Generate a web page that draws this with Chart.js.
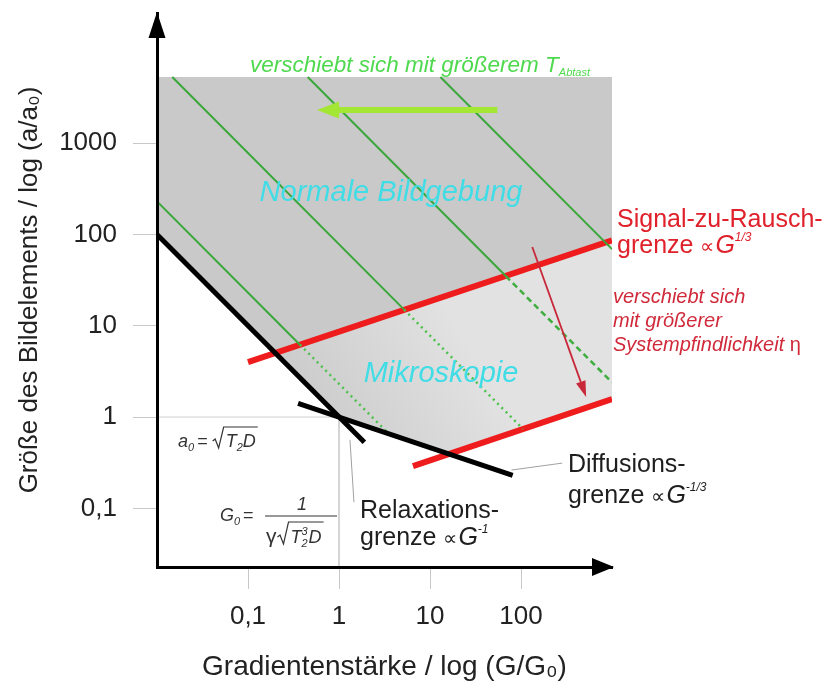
<!DOCTYPE html>
<html><head><meta charset="utf-8">
<script src="https://cdn.jsdelivr.net/npm/chart.js@4.4.1/dist/chart.umd.min.js"></script>
<style>html,body{margin:0;padding:0;background:#fff;}</style>
</head><body>
<canvas id="c" width="829" height="688"></canvas>
<script>
// ---------- DATA (G/G0 on x, a/a0 on y) ----------
const xTicks = [0.1, 1, 10, 100];
const xTickLabels = ['0,1', '1', '10', '100'];
const yTicks = [0.1, 1, 10, 100, 1000];
const yTickLabels = ['0,1', '1', '10', '100', '1000'];
const xMin = 0.01, xMax = 1000, yMin = 0.0228, yMax = 26600;

const relaxG = [0.01, 1.9];   const relaxA = [100, 0.53];     // Relaxationsgrenze ~G^-1
const diffG  = [0.355, 81];   const diffA  = [1.41, 0.23];    // Diffusionsgrenze ~G^-1/3
const snrHiG = [0.1, 1000];   const snrHiA = [4.0, 86];       // Signal-zu-Rausch ~G^1/3
const snrLoG = [6.5, 1000];   const snrLoA = [0.29, 1.57];    // shifted S/N limit
const grn0G = [0.01, 0.372];  const grn0A = [230, 6.2];
const grn1G = [0.0147, 5.2];  const grn1A = [5300, 15];
const grn2G = [0.453, 68];    const grn2A = [5300, 35];
const grn3G = [13, 1000];     const grn3A = [5300, 69];
const dot0G = [0.372, 3.5];   const dot0A = [6.2, 0.66];
const dot1G = [5.2, 105];     const dot1A = [15, 0.74];
const dash2G = [68, 1000];    const dash2A = [35, 2.4];
const normG = [0.01, 0.2, 1000];          const normA = [100, 5.0, 86];
const microG = [0.2, 1, 16.1, 1000];      const microA = [5.0, 1, 0.397, 1.57];
const regionTop = 5300;
const refG = [0.01, 1, 1];    const refA = [1, 1, 0.01];

const pts = (g, a) => g.map((v, i) => ({x: v, y: a[i]}));
const FF = "'Liberation Sans', Arial, Helvetica, sans-serif";
Chart.defaults.font.family = FF;

function microFill(ctx) {
  const ch = ctx.chart;
  if (!ch.chartArea) return '#dedede';
  const g = ch.ctx.createLinearGradient(310, 420, 460, 330);
  g.addColorStop(0, '#cbcbcb');
  g.addColorStop(1, '#e2e2e2');
  return g;
}

const datasets = [
  {data: pts(microG, microA), fill: {value: regionTop}, backgroundColor: microFill, borderColor: 'rgba(0,0,0,0)', borderWidth: 0, order: 30},
  {data: pts(normG, normA), fill: {value: regionTop}, backgroundColor: '#c9c9c9', borderColor: 'rgba(0,0,0,0)', borderWidth: 0, order: 29},
  {data: pts(refG, refA), borderColor: '#cfcfcf', borderWidth: 1, fill: false, order: 28},
  {data: pts(snrHiG, snrHiA), borderColor: '#ee1c1c', borderWidth: 6, fill: false, order: 12},
  {data: pts(snrLoG, snrLoA), borderColor: '#ee1c1c', borderWidth: 6, fill: false, order: 12},
  {data: pts(grn0G, grn0A), borderColor: '#3aa73a', borderWidth: 2, fill: false, order: 10},
  {data: pts(grn1G, grn1A), borderColor: '#3aa73a', borderWidth: 2, fill: false, order: 10},
  {data: pts(grn2G, grn2A), borderColor: '#3aa73a', borderWidth: 2, fill: false, order: 10},
  {data: pts(grn3G, grn3A), borderColor: '#3aa73a', borderWidth: 2, fill: false, order: 10},
  {data: pts(dot0G, dot0A), borderColor: '#4cc24c', borderWidth: 2.5, borderDash: [2, 4], fill: false, order: 10},
  {data: pts(dot1G, dot1A), borderColor: '#4cc24c', borderWidth: 2.5, borderDash: [2, 4], fill: false, order: 10},
  {data: pts(dash2G, dash2A), borderColor: '#3fae3f', borderWidth: 2.5, borderDash: [6, 4], fill: false, order: 10},
  {data: pts(relaxG, relaxA), borderColor: '#000', borderWidth: 5, fill: false, order: 5},
  {data: pts(diffG, diffA), borderColor: '#000', borderWidth: 5, fill: false, order: 5}
];

function fnt(s, i) { return (i ? 'italic ' : '') + s + 'px ' + FF; }
function runs(ctx, x, y, list, color) {
  let cx = x;
  for (const r of list) {
    ctx.font = fnt(r.s, r.i);
    ctx.fillStyle = r.c || color;
    ctx.fillText(r.t, cx, y + (r.dy || 0));
    if (!r.n) cx += ctx.measureText(r.t).width + (r.g || 0);
  }
  return cx;
}
function arrow(ctx, x1, y1, x2, y2, w, color, hl, hw) {
  const a = Math.atan2(y2 - y1, x2 - x1);
  const bx = x2 - hl * Math.cos(a), by = y2 - hl * Math.sin(a);
  ctx.strokeStyle = color; ctx.lineWidth = w; ctx.lineCap = 'butt';
  ctx.beginPath(); ctx.moveTo(x1, y1); ctx.lineTo(bx, by); ctx.stroke();
  ctx.fillStyle = color; ctx.beginPath(); ctx.moveTo(x2, y2);
  ctx.lineTo(bx + hw / 2 * Math.sin(a), by - hw / 2 * Math.cos(a));
  ctx.lineTo(bx - hw / 2 * Math.sin(a), by + hw / 2 * Math.cos(a));
  ctx.closePath(); ctx.fill();
}
function radical(ctx, x, base, top, endX) {
  ctx.beginPath();
  ctx.moveTo(x, base - 6); ctx.lineTo(x + 2.5, base - 8);
  ctx.lineTo(x + 6, base + 1); ctx.lineTo(x + 11, top); ctx.lineTo(endX, top);
  ctx.stroke();
}

const annot = {
  id: 'annot',
  afterDatasetsDraw(chart) {
    const {ctx, scales: {x, y}} = chart;
    const px = v => x.getPixelForValue(v), py = v => y.getPixelForValue(v);
    ctx.save();
    // leader lines
    ctx.strokeStyle = '#a0a0a0'; ctx.lineWidth = 1;
    ctx.beginPath(); ctx.moveTo(px(78.5), py(0.263)); ctx.lineTo(px(284), py(0.313)); ctx.stroke();
    ctx.beginPath(); ctx.moveTo(px(1.32), py(0.56)); ctx.lineTo(px(1.46), py(0.117)); ctx.stroke();
    // shift arrows
    arrow(ctx, px(55), py(2300), px(0.574), py(2300), 6, '#a3e633', 22, 17);
    arrow(ctx, px(133), py(72.8), px(520), py(1.66), 1.8, '#c8283a', 16, 10);

    ctx.textBaseline = 'alphabetic'; ctx.textAlign = 'left';
    // green top text
    runs(ctx, 250, 72, [{t: 'verschiebt sich mit größerem T', s: 22.5, i: 1}, {t: 'Abtast', s: 11, i: 1, dy: 4}], '#4fd94f');
    // region labels
    ctx.textAlign = 'center';
    ctx.font = fnt(29, 1); ctx.fillStyle = '#40dde6';
    ctx.fillText('Normale Bildgebung', 391, 201);
    ctx.fillText('Mikroskopie', 441, 382);
    ctx.textAlign = 'left';
    // S/N text
    runs(ctx, 617, 227, [{t: 'Signal-zu-Rausch-', s: 25}], '#e0202a');
    runs(ctx, 617, 253, [{t: 'grenze ', s: 25}, {t: '\u221D', s: 20, g: 1}, {t: 'G', s: 25, i: 1}, {t: '1/3', s: 12, i: 1, dy: -12}], '#e0202a');
    const rc = '#d02a3a';
    runs(ctx, 613, 303, [{t: 'verschiebt sich', s: 20, i: 1}], rc);
    runs(ctx, 613, 327, [{t: 'mit größerer', s: 20, i: 1}], rc);
    runs(ctx, 613, 351, [{t: 'Systempfindlichkeit ', s: 20, i: 1}, {t: '\u03B7', s: 20}], rc);
    // diffusion
    const k = '#1e1e1e';
    runs(ctx, 568, 472, [{t: 'Diffusions-', s: 25}], k);
    runs(ctx, 568, 503, [{t: 'grenze ', s: 25}, {t: '\u221D', s: 20, g: 1}, {t: 'G', s: 25, i: 1}, {t: '-1/3', s: 12, i: 1, dy: -12}], k);
    // relaxation
    runs(ctx, 360, 518, [{t: 'Relaxations-', s: 25}], k);
    runs(ctx, 360, 545, [{t: 'grenze ', s: 25}, {t: '\u221D', s: 20, g: 1}, {t: 'G', s: 25, i: 1}, {t: '-1', s: 12, i: 1, dy: -12}], k);
    // a0 formula
    const fc = '#333';
    ctx.strokeStyle = fc; ctx.lineWidth = 1.2;
    let cx = runs(ctx, 178, 447, [{t: 'a', s: 18, i: 1}, {t: '0', s: 11, i: 1, dy: 4, g: 3}, {t: '= ', s: 18}], fc);
    let ex = runs(ctx, cx + 13, 447, [{t: 'T', s: 18, i: 1}, {t: '2', s: 11, i: 1, dy: 4}, {t: 'D', s: 18, i: 1}], fc);
    radical(ctx, cx, 447, 427, ex + 2);
    // G0 formula
    runs(ctx, 220, 521, [{t: 'G', s: 18, i: 1}, {t: '0', s: 11, i: 1, dy: 4, g: 3}, {t: '=', s: 18}], fc);
    ctx.beginPath(); ctx.moveTo(265, 516); ctx.lineTo(337, 516); ctx.stroke();
    ctx.textAlign = 'center'; ctx.font = fnt(18, 1); ctx.fillText('1', 302, 510); ctx.textAlign = 'left';
    cx = runs(ctx, 266, 543, [{t: '\u03B3', s: 21, g: 1}], fc);
    ex = runs(ctx, cx + 13, 543, [{t: 'T', s: 18, i: 1}, {t: '3', s: 11, i: 1, dy: -8, n: 1}, {t: '2', s: 11, i: 1, dy: 4, g: 1}, {t: 'D', s: 18, i: 1}], fc);
    radical(ctx, cx, 543, 522, ex + 2);
    ctx.restore();
  },
  afterDraw(chart) {
    const {ctx, chartArea: a} = chart;
    ctx.save();
    ctx.fillStyle = '#000';
    ctx.beginPath(); ctx.moveTo(a.left, a.top - 1); ctx.lineTo(a.left - 8.5, a.top + 25); ctx.lineTo(a.left + 8.5, a.top + 25); ctx.closePath(); ctx.fill();
    ctx.beginPath(); ctx.moveTo(a.right + 2, a.bottom); ctx.lineTo(a.right - 20, a.bottom - 9); ctx.lineTo(a.right - 20, a.bottom + 9); ctx.closePath(); ctx.fill();
    ctx.restore();
  }
};

new Chart(document.getElementById('c'), {
  type: 'line',
  data: {datasets},
  options: {
    responsive: false, animation: false,
    layout: {padding: {left: 0, top: 13, right: 217, bottom: 0}},
    plugins: {legend: {display: false}, tooltip: {enabled: false}},
    elements: {point: {radius: 0}, line: {tension: 0, borderCapStyle: 'butt'}},
    scales: {
      x: {
        type: 'logarithmic', min: xMin, max: xMax,
        afterFit: s => { s.height = 121; s.paddingLeft = 0; s.paddingRight = 0; },
        afterBuildTicks: s => { s.ticks = xTicks.map(v => ({value: v})); },
        ticks: {callback: v => xTickLabels[xTicks.indexOf(v)], font: {size: 26}, color: '#222', padding: 12, autoSkip: false, maxRotation: 0},
        grid: {drawOnChartArea: false, tickLength: 22, color: '#c8c8c8', lineWidth: 1},
        border: {color: '#000', width: 3, z: 1},
        title: {display: true, text: 'Gradientenstärke / log (G/G\u2080)', font: {size: 28}, color: '#222', padding: {top: 0, bottom: 4}}
      },
      y: {
        type: 'logarithmic', min: yMin, max: yMax,
        afterFit: s => { s.width = 157; s.paddingTop = 0; s.paddingBottom = 0; },
        afterBuildTicks: s => { s.ticks = yTicks.map(v => ({value: v})); },
        ticks: {callback: v => yTickLabels[yTicks.indexOf(v)], font: {size: 26}, color: '#222', padding: 16, autoSkip: false},
        grid: {drawOnChartArea: false, tickLength: 24, color: '#c8c8c8', lineWidth: 1},
        border: {color: '#000', width: 3, z: 1},
        title: {display: true, text: 'Größe des Bildelements / log (a/a\u2080)', font: {size: 26}, color: '#222', padding: {top: 14, bottom: 0}}
      }
    }
  },
  plugins: [annot]
});
</script>
</body></html>
